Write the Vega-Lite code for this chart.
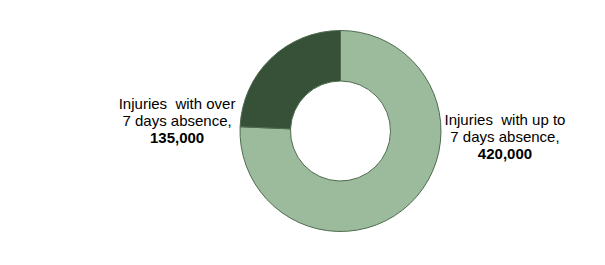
{
  "$schema": "https://vega.github.io/schema/vega-lite/v6.json",
  "autosize": "none",
  "width": 529,
  "height": 262,
  "padding": {"left": 76, "top": 0, "right": 0, "bottom": 3},
  "background": "white",
  "config": {"view": {"stroke": null}, "font": "Liberation Sans"},
  "data": {
    "values": [
      {"category": "Injuries with up to 7 days absence", "label": "Injuries \u00a0with up to\n7 days absence,", "value": 420000},
      {"category": "Injuries with over 7 days absence", "label": "Injuries \u00a0with over\n7 days absence,", "value": 135000}
    ]
  },
  "layer": [
    {
      "mark": {"type": "arc", "outerRadius": 100.5, "innerRadius": 50, "stroke": "#4e6b4e", "strokeWidth": 1},
      "encoding": {
        "theta": {"field": "value", "type": "quantitative", "stack": true},
        "order": {"field": "value", "type": "quantitative", "sort": "descending"},
        "color": {
          "field": "category",
          "type": "nominal",
          "scale": {
            "domain": ["Injuries with up to 7 days absence", "Injuries with over 7 days absence"],
            "range": ["#9cbb9d", "#365138"]
          },
          "legend": null
        }
      }
    },
    {
      "transform": [{"filter": "datum.value == 420000"}],
      "layer": [
        {
          "mark": {"type": "text", "theta": 1.555, "radius": 164.5, "dy": -8.5, "lineBreak": "\n", "lineHeight": 17, "fontSize": 15, "align": "center", "baseline": "middle", "color": "#000000"},
          "encoding": {"text": {"field": "label", "type": "nominal"}}
        },
        {
          "mark": {"type": "text", "theta": 1.555, "radius": 164.5, "dy": 25.5, "fontSize": 15, "fontWeight": "bold", "align": "center", "baseline": "middle", "color": "#000000"},
          "encoding": {"text": {"field": "value", "type": "quantitative", "format": ","}}
        }
      ]
    },
    {
      "transform": [{"filter": "datum.value == 135000"}],
      "layer": [
        {
          "mark": {"type": "text", "theta": 4.826, "radius": 164.5, "dy": -8.5, "lineBreak": "\n", "lineHeight": 17, "fontSize": 15, "align": "center", "baseline": "middle", "color": "#000000"},
          "encoding": {"text": {"field": "label", "type": "nominal"}}
        },
        {
          "mark": {"type": "text", "theta": 4.826, "radius": 164.5, "dy": 25.5, "fontSize": 15, "fontWeight": "bold", "align": "center", "baseline": "middle", "color": "#000000"},
          "encoding": {"text": {"field": "value", "type": "quantitative", "format": ","}}
        }
      ]
    }
  ]
}
